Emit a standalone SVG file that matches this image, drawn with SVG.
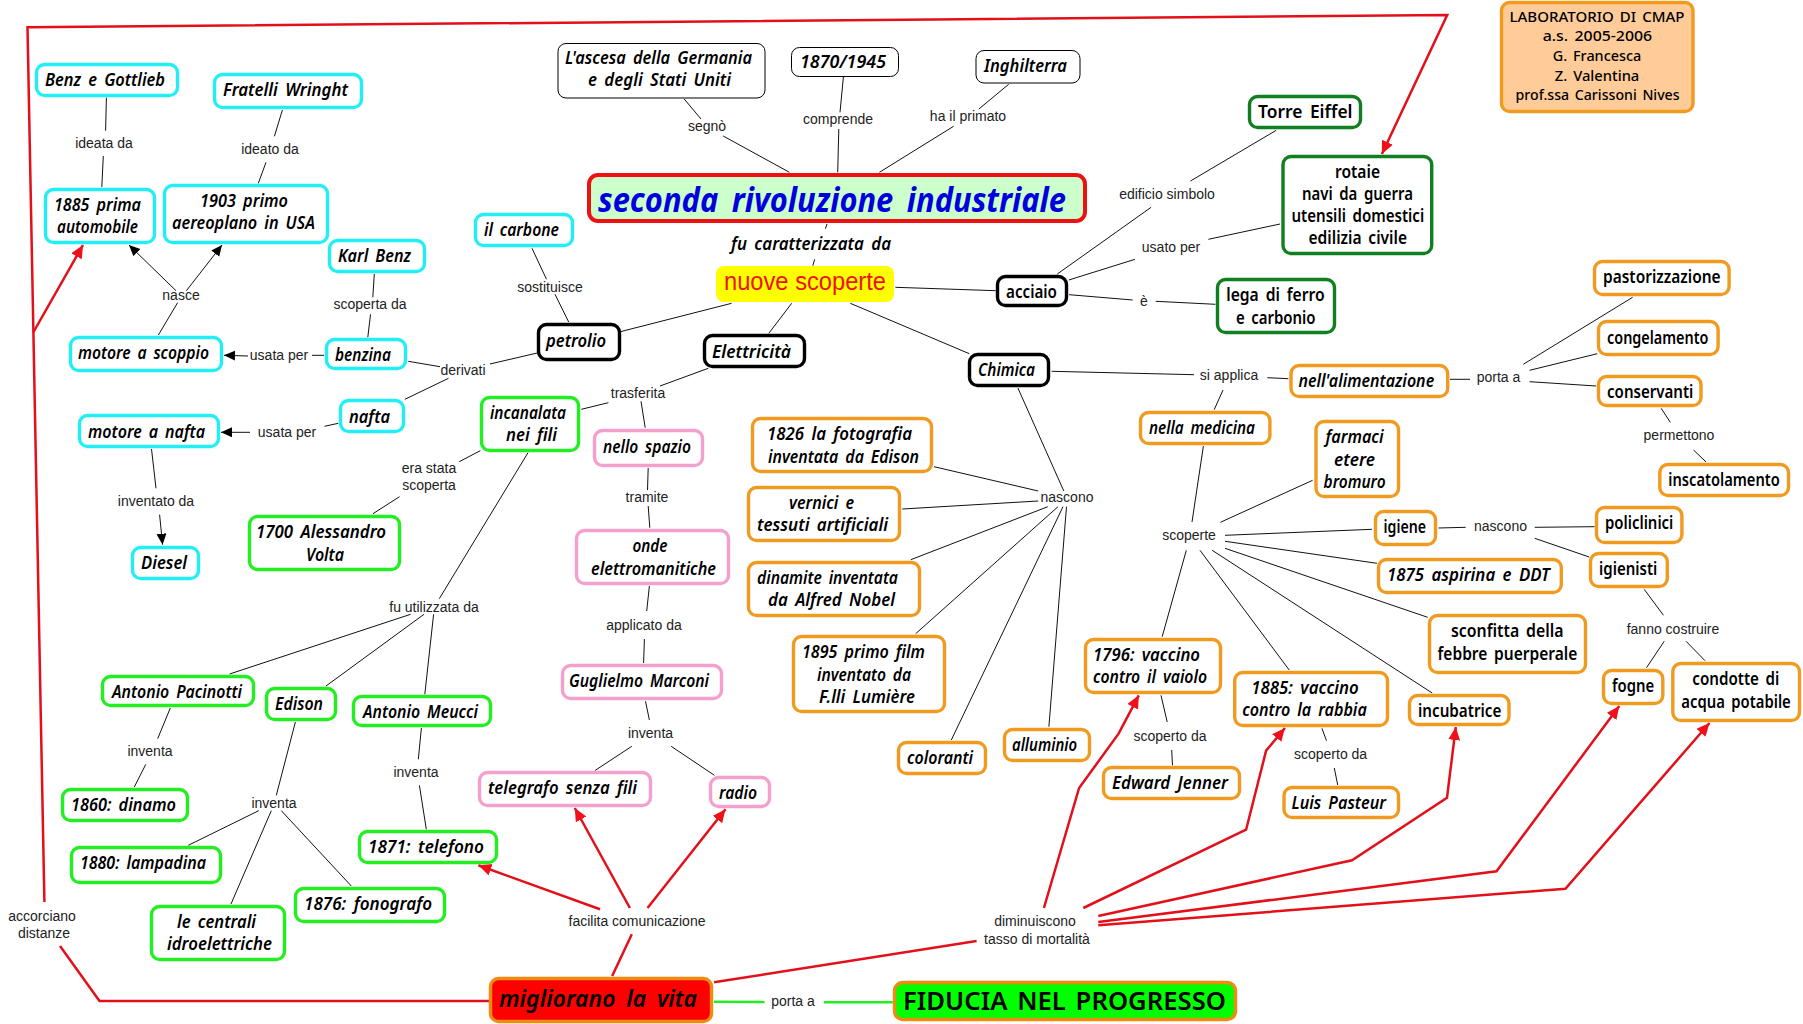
<svg xmlns="http://www.w3.org/2000/svg" width="1803" height="1024" viewBox="0 0 1803 1024">
<style>
.n{fill:#fff;stroke-width:3.4}
.cy{stroke:#22eef6}.gr{stroke:#22ee22}.pk{stroke:#f4a0cc}.or{stroke:#f09a20}.dg{stroke:#0f7f1f}.bk{stroke:#000}
.th{fill:#fff;stroke:#000;stroke-width:1}
text{font-family:"Noto Sans","DejaVu Sans",sans-serif;font-size:17px;fill:#000}
.i{font-style:italic;font-weight:600;word-spacing:3px}
.u{font-weight:600;word-spacing:3px}
.l{font-family:"Liberation Sans",Arial,sans-serif;font-size:14px;fill:#222;text-anchor:middle;word-spacing:0}
.s{font-size:14px;font-weight:500;word-spacing:2px}
.c line,.c polyline{fill:none}
.k line{stroke:#111;stroke-width:1}
.r line,.r polyline{stroke:#e3101a;stroke-width:2.5;fill:none;stroke-linejoin:miter}
.g line{stroke:#22ee22;stroke-width:2.4}
.ka{marker-end:url(#ah)}
.ra{marker-end:url(#rh)}
</style>
<defs>
<marker id="ah" markerUnits="userSpaceOnUse" markerWidth="14" markerHeight="12" refX="11" refY="5" orient="auto"><path d="M0 0L11 5L0 10Z" fill="#000"/></marker>
<marker id="rh" markerUnits="userSpaceOnUse" markerWidth="16" markerHeight="14" refX="13" refY="6" orient="auto"><path d="M0 0L13 6L0 12Z" fill="#f0101a"/></marker>
</defs>
<rect width="1803" height="1024" fill="#fff"/>
<g id="connectors" class="c">
<g class="k">
<line x1="106.4" y1="97.7" x2="105.6" y2="130.7"/><line x1="103.3" y1="156" x2="101.8" y2="187"/>
<line x1="282.4" y1="110" x2="274.4" y2="136.3"/><line x1="266" y1="162.3" x2="258.3" y2="183.3"/>
<line class="ka" x1="176" y1="290.7" x2="129" y2="245"/><line class="ka" x1="186.4" y1="290.7" x2="222" y2="245"/>
<line x1="158.4" y1="335" x2="177.6" y2="302.7"/>
<line x1="374.3" y1="274" x2="372.8" y2="297.3"/><line x1="370.5" y1="314.3" x2="367.8" y2="337.3"/>
<line x1="532" y1="248.3" x2="546.5" y2="279.3"/><line x1="555" y1="294.3" x2="568.7" y2="322"/>
<line x1="324" y1="355.3" x2="312" y2="355.3"/><line class="ka" x1="248" y1="356" x2="224" y2="355.3"/>
<line x1="408.3" y1="361.3" x2="440" y2="366.7"/><line x1="489.9" y1="364" x2="537.3" y2="353"/>
<line x1="448.5" y1="378.3" x2="404.9" y2="399.3"/>
<line x1="338.3" y1="423.3" x2="324.5" y2="426.3"/><line class="ka" x1="250" y1="432.3" x2="221" y2="432.3"/>
<line x1="151.5" y1="449" x2="156" y2="488.3"/><line class="ka" x1="159.6" y1="514.7" x2="162.6" y2="544.7"/>
<line x1="480.3" y1="450.7" x2="459.2" y2="461.7"/><line x1="399.5" y1="496.7" x2="373" y2="513.7"/>
<line x1="528" y1="452.7" x2="439.3" y2="598.7"/>
<line x1="410.6" y1="614.3" x2="229.6" y2="674"/><line x1="424" y1="614.3" x2="326" y2="686"/><line x1="433.6" y1="614.3" x2="424.8" y2="694.3"/>
<line x1="170.3" y1="708" x2="157.7" y2="738.7"/><line x1="145.8" y1="764.3" x2="134.3" y2="787"/>
<line x1="295.4" y1="722" x2="276.3" y2="795.3"/>
<line x1="258.7" y1="810.7" x2="188.3" y2="845.3"/><line x1="271.3" y1="810.7" x2="231" y2="904"/><line x1="281.3" y1="810.7" x2="351.3" y2="886"/>
<line x1="421.4" y1="728" x2="418.3" y2="759.3"/><line x1="419.4" y1="785.3" x2="426.3" y2="829.3"/>
<line x1="684.2" y1="99" x2="701" y2="119"/><line x1="723.2" y1="136" x2="789.4" y2="172.3"/>
<line x1="843.4" y1="77" x2="840" y2="112.3"/><line x1="838.8" y1="129" x2="837.7" y2="172.3"/>
<line x1="1008.7" y1="84.3" x2="978.9" y2="109"/><line x1="953.6" y1="126.3" x2="879.4" y2="172.3"/>
<line x1="827" y1="224" x2="825.4" y2="228.7"/><line x1="814.7" y1="259.3" x2="812.8" y2="265.7"/>
<line x1="895.4" y1="287.3" x2="995.7" y2="290.7"/><line x1="731.6" y1="303.3" x2="619.1" y2="332"/>
<line x1="791.7" y1="303.3" x2="768.8" y2="333.3"/><line x1="850.3" y1="303.3" x2="969.3" y2="353.7"/>
<line x1="708.3" y1="368.3" x2="660" y2="386"/><line x1="608.4" y1="402.7" x2="581.3" y2="409.3"/>
<line x1="641" y1="401.3" x2="645.2" y2="427.7"/><line x1="648.2" y1="468" x2="647.5" y2="490"/>
<line x1="648.2" y1="506" x2="649.8" y2="527.7"/><line x1="649.4" y1="586" x2="646.7" y2="611"/>
<line x1="644.4" y1="639" x2="643.6" y2="663"/><line x1="645.5" y1="701.3" x2="649.4" y2="720"/>
<line x1="631.8" y1="746.3" x2="595" y2="770.5"/><line x1="671.2" y1="746.3" x2="714.4" y2="775.3"/>
<line x1="1017.9" y1="388" x2="1063.8" y2="491"/><line x1="934" y1="466.7" x2="1038.2" y2="491"/>
<line x1="902.3" y1="509" x2="1038.2" y2="501"/><line x1="1047.8" y1="506.7" x2="910.8" y2="559.7"/>
<line x1="1058" y1="506.7" x2="915.7" y2="633.7"/><line x1="1063" y1="506.7" x2="951.3" y2="740"/>
<line x1="1066.5" y1="506.7" x2="1048.9" y2="726.7"/>
<line x1="1057.3" y1="274" x2="1151.1" y2="207.3"/><line x1="1190.5" y1="181" x2="1276.2" y2="130.3"/>
<line x1="1068.8" y1="280" x2="1135" y2="259.3"/><line x1="1208.4" y1="239.3" x2="1280" y2="224"/>
<line x1="1069.1" y1="294.7" x2="1132.7" y2="300"/><line x1="1155.7" y1="301.3" x2="1215.4" y2="304.3"/>
<line x1="1051.6" y1="371.3" x2="1194" y2="374.7"/><line x1="1267.3" y1="377.7" x2="1288.4" y2="378.7"/>
<line x1="1223" y1="390" x2="1214.2" y2="409.7"/>
<line x1="1450" y1="379.3" x2="1470" y2="379.3"/><line x1="1523.3" y1="364.3" x2="1632.6" y2="297.3"/>
<line x1="1529.6" y1="370.3" x2="1597.3" y2="353.7"/><line x1="1529.6" y1="381.7" x2="1596.2" y2="386"/>
<line x1="1661.2" y1="408.3" x2="1670.3" y2="422.3"/><line x1="1693.5" y1="450" x2="1706.1" y2="462"/>
<line x1="1203.4" y1="446" x2="1192" y2="522"/>
<line x1="1220.4" y1="522.3" x2="1312.6" y2="480.3"/><line x1="1225" y1="535.3" x2="1371.9" y2="529.3"/>
<line x1="1225" y1="541.3" x2="1376.9" y2="563.3"/><line x1="1225" y1="548.3" x2="1427.7" y2="617.3"/>
<line x1="1212.2" y1="550.3" x2="1432.2" y2="693"/><line x1="1200" y1="550.3" x2="1289.2" y2="670"/>
<line x1="1186.3" y1="550.3" x2="1162.2" y2="636.7"/>
<line x1="1161" y1="695.3" x2="1167.2" y2="722"/><line x1="1171.7" y1="750" x2="1172.5" y2="765.3"/>
<line x1="1321.9" y1="728.3" x2="1326.5" y2="740.7"/><line x1="1334.3" y1="768" x2="1337.7" y2="785"/>
<line x1="1438.5" y1="528" x2="1465.7" y2="527.3"/><line x1="1534.7" y1="527.3" x2="1594.6" y2="526.7"/>
<line x1="1534.7" y1="538.3" x2="1589.2" y2="557"/>
<line x1="1644.2" y1="589.3" x2="1663.5" y2="615.3"/><line x1="1664.2" y1="641.3" x2="1646.5" y2="667.7"/>
<line x1="1686.1" y1="641.3" x2="1705" y2="660.7"/>
</g>
<g class="r">
<polyline class="ra" points="44.4,902 27.5,27.3 1447.2,15 1381.9,154"/>
<polyline class="ra" points="33.5,332 83,245"/>
<polyline points="60,946 99.5,1001 489,1001"/>
<line class="ra" x1="600" y1="909.3" x2="478.4" y2="865.3"/>
<line class="ra" x1="629.9" y1="908" x2="574.8" y2="808"/>
<line class="ra" x1="647.5" y1="908" x2="725.5" y2="809.3"/>
<line x1="612.2" y1="976" x2="631.8" y2="934.3"/>
<line x1="714" y1="982.3" x2="976.6" y2="941"/>
<polyline class="ra" points="1043.9,908 1079.1,788 1118.6,733.7 1138.8,695.3"/>
<polyline class="ra" points="1083.3,908 1246.1,829.7 1266.1,750.7 1285,728"/>
<polyline class="ra" points="1098.3,916 1352,860.3 1447,797.7 1455.8,727"/>
<polyline class="ra" points="1098.3,922 1496.5,871.3 1619.3,706"/>
<polyline class="ra" points="1098.3,925.3 1565.4,888.7 1709.5,723"/>
</g>
<g class="g">
<line x1="714" y1="1001.7" x2="764.6" y2="1002"/><line x1="823.9" y1="1002.3" x2="892.8" y2="1002.3"/>
</g>
</g>
<g id="labels">
<text class="l" x="104" y="148">ideata da</text>
<text class="l" x="270" y="154">ideato da</text>
<text class="l" x="181" y="300">nasce</text>
<text class="l" x="370" y="309">scoperta da</text>
<text class="l" x="550" y="292">sostituisce</text>
<text class="l" x="279" y="360">usata per</text>
<text class="l" x="463" y="375">derivati</text>
<text class="l" x="287" y="437">usata per</text>
<text class="l" x="429" y="473">era stata</text>
<text class="l" x="429" y="490">scoperta</text>
<text class="l" x="156" y="506">inventato da</text>
<text class="l" x="707" y="131">segnò</text>
<text class="l" x="838" y="124">comprende</text>
<text class="l" x="968" y="121">ha il primato</text>
<text class="l" x="1167" y="199">edificio simbolo</text>
<text class="l" x="1171" y="252">usato per</text>
<text class="l" x="1144" y="306">è</text>
<text class="l" x="638" y="398">trasferita</text>
<text class="l" x="647" y="502">tramite</text>
<text class="l" x="1067" y="502">nascono</text>
<text class="l" x="644" y="630">applicato da</text>
<text class="l" x="650.5" y="738">inventa</text>
<text class="l" x="1229" y="380">si applica</text>
<text class="l" x="1498.5" y="382">porta a</text>
<text class="l" x="1679" y="440">permettono</text>
<text class="l" x="1189" y="540">scoperte</text>
<text class="l" x="1500.5" y="531">nascono</text>
<text class="l" x="1673" y="634">fanno costruire</text>
<text class="l" x="1330.6" y="759">scoperto da</text>
<text class="l" x="1170" y="741">scoperto da</text>
<text class="l" x="434" y="612">fu utilizzata da</text>
<text class="l" x="150" y="756">inventa</text>
<text class="l" x="274" y="808">inventa</text>
<text class="l" x="416" y="777">inventa</text>
<text class="l" x="42" y="921">accorciano</text>
<text class="l" x="44" y="938">distanze</text>
<text class="l" x="637" y="926">facilita comunicazione</text>
<text class="l" x="1035" y="926">diminuiscono</text>
<text class="l" x="1037" y="944">tasso di mortalità</text>
<text class="l" x="793" y="1006">porta a</text>
<text class="i" x="731" y="250" textLength="160" lengthAdjust="spacingAndGlyphs">fu caratterizzata da</text>
</g>
<g id="n-benz-gottlieb"><rect class="n cy" x="36.5" y="64.5" width="141" height="31" rx="8"/><text class="i" x="45" y="86" textLength="120" lengthAdjust="spacingAndGlyphs">Benz e Gottlieb</text></g>
<g id="n-wright"><rect class="n cy" x="214.5" y="74.5" width="147" height="33" rx="8"/><text class="i" x="223" y="96" textLength="125" lengthAdjust="spacingAndGlyphs">Fratelli Wringht</text></g>
<g id="n-1885-auto"><rect class="n cy" x="45.5" y="189.5" width="109" height="53" rx="8"/><text class="i" x="54" y="211" textLength="87" lengthAdjust="spacingAndGlyphs">1885 prima</text><text class="i" x="57" y="233" textLength="81" lengthAdjust="spacingAndGlyphs">automobile</text></g>
<g id="n-1903"><rect class="n cy" x="164.5" y="185.5" width="163" height="57" rx="8"/><text class="i" x="200" y="207" textLength="88" lengthAdjust="spacingAndGlyphs">1903 primo</text><text class="i" x="172" y="229" textLength="143" lengthAdjust="spacingAndGlyphs">aereoplano in USA</text></g>
<g id="n-karl"><rect class="n cy" x="329.5" y="240.5" width="95" height="31" rx="8"/><text class="i" x="338" y="262" textLength="73" lengthAdjust="spacingAndGlyphs">Karl Benz</text></g>
<g id="n-carbone"><rect class="n cy" x="475.5" y="214.5" width="97" height="31" rx="8"/><text class="i" x="484" y="236" textLength="75" lengthAdjust="spacingAndGlyphs">il carbone</text></g>
<g id="n-petrolio"><rect class="n bk" x="538.5" y="324.5" width="81" height="35" rx="8"/><text class="i" x="546" y="347" textLength="60" lengthAdjust="spacingAndGlyphs">petrolio</text></g>
<g id="n-scoppio"><rect class="n cy" x="70.5" y="337.5" width="151" height="33" rx="8"/><text class="i" x="78" y="359" textLength="131" lengthAdjust="spacingAndGlyphs">motore a scoppio</text></g>
<g id="n-benzina"><rect class="n cy" x="326.5" y="339.5" width="79" height="29" rx="8"/><text class="i" x="335" y="361" textLength="56" lengthAdjust="spacingAndGlyphs">benzina</text></g>
<g id="n-nafta"><rect class="n cy" x="340.5" y="400.5" width="63" height="31" rx="8"/><text class="i" x="349" y="423" textLength="41" lengthAdjust="spacingAndGlyphs">nafta</text></g>
<g id="n-incanalata"><rect class="n gr" x="481.5" y="397.5" width="97" height="53" rx="8"/><text class="i" x="490" y="419" textLength="76" lengthAdjust="spacingAndGlyphs">incanalata</text><text class="i" x="506" y="441" textLength="51" lengthAdjust="spacingAndGlyphs">nei fili</text></g>
<g id="n-motore-nafta"><rect class="n cy" x="79.5" y="415.5" width="139" height="31" rx="8"/><text class="i" x="88" y="438" textLength="117" lengthAdjust="spacingAndGlyphs">motore a nafta</text></g>
<g id="n-diesel"><rect class="n cy" x="132.5" y="547.5" width="66" height="31" rx="8"/><text class="i" x="141" y="569" textLength="46" lengthAdjust="spacingAndGlyphs">Diesel</text></g>
<g id="n-ascesa"><rect class="th" x="558" y="43.5" width="207" height="54.5" rx="8"/><text class="i" x="565" y="64" textLength="187" lengthAdjust="spacingAndGlyphs">L'ascesa della Germania</text><text class="i" x="588" y="86" textLength="143" lengthAdjust="spacingAndGlyphs">e degli Stati Uniti</text></g>
<g id="n-1870"><rect class="th" x="791.5" y="47.5" width="107" height="29" rx="8"/><text class="i" x="800" y="68" textLength="86" lengthAdjust="spacingAndGlyphs">1870/1945</text></g>
<g id="n-inghilterra"><rect class="th" x="976" y="50.5" width="104" height="32.5" rx="8"/><text class="i" x="984" y="72" textLength="83" lengthAdjust="spacingAndGlyphs">Inghilterra</text></g>
<g id="n-main"><rect x="589" y="175" width="496" height="46" rx="9" fill="#ccffcc" stroke="#ee1111" stroke-width="4"/><text class="i" x="598" y="212" textLength="468" lengthAdjust="spacingAndGlyphs" style="font-size:34px;font-weight:700;fill:#0000dd;word-spacing:6px">seconda rivoluzione industriale</text></g>
<g id="n-nuove"><rect x="716" y="266" width="178" height="36" rx="8" fill="#ffff00"/><text x="724" y="290" textLength="162" lengthAdjust="spacingAndGlyphs" style="font-family:'Liberation Sans',sans-serif;font-size:25px;fill:#ee1111">nuove scoperte</text></g>
<g id="n-acciaio"><rect class="n bk" x="997.5" y="276.5" width="69" height="29" rx="8"/><text class="u" x="1006" y="298" textLength="51" lengthAdjust="spacingAndGlyphs">acciaio</text></g>
<g id="n-elettricita"><rect class="n bk" x="704.5" y="335.5" width="100" height="31" rx="8"/><text class="i" x="712" y="358" textLength="79" lengthAdjust="spacingAndGlyphs">Elettricità</text></g>
<g id="n-chimica"><rect class="n bk" x="969.5" y="354.5" width="79" height="31" rx="8"/><text class="i" x="978" y="376" textLength="57" lengthAdjust="spacingAndGlyphs">Chimica</text></g>
<g id="n-nello"><rect class="n pk" x="594.5" y="430.5" width="108" height="35" rx="8"/><text class="i" x="603" y="453" textLength="88" lengthAdjust="spacingAndGlyphs">nello spazio</text></g>
<g id="n-1826"><rect class="n or" x="752.5" y="418.5" width="179" height="53" rx="8"/><text class="i" x="767" y="440" textLength="145" lengthAdjust="spacingAndGlyphs">1826 la fotografia</text><text class="i" x="768" y="463" textLength="151" lengthAdjust="spacingAndGlyphs">inventata da Edison</text></g>
<g id="n-vernici"><rect class="n or" x="748.5" y="487.5" width="151" height="53" rx="8"/><text class="i" x="789" y="509" textLength="65" lengthAdjust="spacingAndGlyphs">vernici e</text><text class="i" x="757" y="531" textLength="131" lengthAdjust="spacingAndGlyphs">tessuti artificiali</text></g>
<g id="n-onde"><rect class="n pk" x="576.5" y="530.5" width="152" height="53" rx="8"/><text class="i" x="632.5" y="552" textLength="35" lengthAdjust="spacingAndGlyphs">onde</text><text class="i" x="591" y="575" textLength="125" lengthAdjust="spacingAndGlyphs">elettromanitiche</text></g>
<g id="n-marconi"><rect class="n pk" x="562.5" y="665.5" width="159" height="33" rx="8"/><text class="i" x="569" y="687" textLength="140" lengthAdjust="spacingAndGlyphs">Guglielmo Marconi</text></g>
<g id="n-dinamite"><rect class="n or" x="748.5" y="562.5" width="171" height="53" rx="8"/><text class="i" x="757" y="584" textLength="141" lengthAdjust="spacingAndGlyphs">dinamite inventata</text><text class="i" x="768" y="606" textLength="127" lengthAdjust="spacingAndGlyphs">da Alfred Nobel</text></g>
<g id="n-1895"><rect class="n or" x="793.5" y="636.5" width="151" height="75" rx="8"/><text class="i" x="802" y="658" textLength="123" lengthAdjust="spacingAndGlyphs">1895 primo film</text><text class="i" x="817" y="681" textLength="94" lengthAdjust="spacingAndGlyphs">inventato da</text><text class="i" x="819" y="703" textLength="96" lengthAdjust="spacingAndGlyphs">F.lli Lumière</text></g>
<g id="n-coloranti"><rect class="n or" x="898.5" y="742.5" width="87" height="31" rx="8"/><text class="i" x="907" y="764" textLength="66" lengthAdjust="spacingAndGlyphs">coloranti</text></g>
<g id="n-alluminio"><rect class="n or" x="1004.5" y="729.5" width="85" height="31" rx="8"/><text class="i" x="1012" y="751" textLength="65" lengthAdjust="spacingAndGlyphs">alluminio</text></g>
<g id="n-radio"><rect class="n pk" x="710.5" y="777.5" width="59" height="29" rx="8"/><text class="i" x="719" y="799" textLength="38" lengthAdjust="spacingAndGlyphs">radio</text></g>
<g id="n-telegrafo"><rect class="n pk" x="479.5" y="772.5" width="171" height="33" rx="8"/><text class="i" x="488" y="794" textLength="149" lengthAdjust="spacingAndGlyphs">telegrafo senza fili</text></g>
<g id="n-1796"><rect class="n or" x="1085.5" y="639.5" width="135" height="53" rx="8"/><text class="i" x="1093" y="661" textLength="107" lengthAdjust="spacingAndGlyphs">1796: vaccino</text><text class="i" x="1093" y="683" textLength="114" lengthAdjust="spacingAndGlyphs">contro il vaiolo</text></g>
<g id="n-jenner"><rect class="n or" x="1103.5" y="767.5" width="136" height="31" rx="8"/><text class="i" x="1112" y="789" textLength="116" lengthAdjust="spacingAndGlyphs">Edward Jenner</text></g>
<g id="n-migliorano"><rect x="490.5" y="978.5" width="221" height="43" rx="8" fill="#ff0000" stroke="#f08a10" stroke-width="3.4"/><text class="i" x="499" y="1007" textLength="198" lengthAdjust="spacingAndGlyphs" style="font-size:24px;word-spacing:5px">migliorano la vita</text></g>
<g id="n-fiducia"><rect x="894.5" y="982.5" width="341" height="37" rx="8" fill="#00ff00" stroke="#f08a10" stroke-width="3.4"/><text class="u" x="903" y="1010" textLength="323" lengthAdjust="spacingAndGlyphs" style="font-size:25px">FIDUCIA NEL PROGRESSO</text></g>
<g id="n-lab"><rect x="1501.5" y="2.5" width="191.5" height="109" rx="8" fill="#ffcc99" stroke="#f09a20" stroke-width="3.4"/><text class="s" x="1509.5" y="22" textLength="175" lengthAdjust="spacingAndGlyphs">LABORATORIO DI CMAP</text><text class="s" x="1542.7" y="41" textLength="109.5" lengthAdjust="spacingAndGlyphs">a.s. 2005-2006</text><text class="s" x="1552.8" y="61" textLength="88.5" lengthAdjust="spacingAndGlyphs">G. Francesca</text><text class="s" x="1554.8" y="81" textLength="84.5" lengthAdjust="spacingAndGlyphs">Z. Valentina</text><text class="s" x="1515.6" y="100" textLength="164" lengthAdjust="spacingAndGlyphs">prof.ssa Carissoni Nives</text></g>
<g id="n-eiffel"><rect class="n dg" x="1249.5" y="96.5" width="111" height="31" rx="8"/><text class="u" x="1258" y="118" textLength="94.5" lengthAdjust="spacingAndGlyphs">Torre Eiffel</text></g>
<g id="n-rotaie"><rect class="n dg" x="1283" y="156.5" width="148.7" height="97" rx="8"/><text class="u" x="1335" y="178" textLength="45" lengthAdjust="spacingAndGlyphs">rotaie</text><text class="u" x="1302" y="200" textLength="111" lengthAdjust="spacingAndGlyphs">navi da guerra</text><text class="u" x="1291.5" y="222" textLength="132.7" lengthAdjust="spacingAndGlyphs">utensili domestici</text><text class="u" x="1308.5" y="244" textLength="98.5" lengthAdjust="spacingAndGlyphs">edilizia civile</text></g>
<g id="n-lega"><rect class="n dg" x="1217.5" y="279.5" width="117" height="53" rx="8"/><text class="u" x="1226.2" y="301" textLength="98.5" lengthAdjust="spacingAndGlyphs">lega di ferro</text><text class="u" x="1236" y="324" textLength="79.5" lengthAdjust="spacingAndGlyphs">e carbonio</text></g>
<g id="n-past"><rect class="n or" x="1594.5" y="261.5" width="134.6" height="33" rx="8"/><text class="u" x="1603" y="283" textLength="117.6" lengthAdjust="spacingAndGlyphs">pastorizzazione</text></g>
<g id="n-cong"><rect class="n or" x="1598.5" y="321.5" width="119.6" height="33" rx="8"/><text class="u" x="1607" y="344" textLength="101.5" lengthAdjust="spacingAndGlyphs">congelamento</text></g>
<g id="n-cons"><rect class="n or" x="1598.5" y="376.5" width="102.5" height="29" rx="8"/><text class="u" x="1607" y="398" textLength="86.4" lengthAdjust="spacingAndGlyphs">conservanti</text></g>
<g id="n-inscat"><rect class="n or" x="1659.8" y="464.5" width="128.7" height="31" rx="8"/><text class="u" x="1668.3" y="486" textLength="111.5" lengthAdjust="spacingAndGlyphs">inscatolamento</text></g>
<g id="n-alimentazione"><rect class="n or" x="1291" y="365.5" width="156.7" height="31" rx="8"/><text class="i" x="1298.5" y="387" textLength="135.7" lengthAdjust="spacingAndGlyphs">nell'alimentazione</text></g>
<g id="n-medicina"><rect class="n or" x="1140.5" y="412.5" width="129.4" height="31" rx="8"/><text class="i" x="1149" y="434" textLength="106" lengthAdjust="spacingAndGlyphs">nella medicina</text></g>
<g id="n-farmaci"><rect class="n or" x="1316" y="421.5" width="82.5" height="75" rx="8"/><text class="i" x="1325.6" y="443" textLength="58" lengthAdjust="spacingAndGlyphs">farmaci</text><text class="i" x="1334" y="466" textLength="41" lengthAdjust="spacingAndGlyphs">etere</text><text class="i" x="1323.6" y="488" textLength="62" lengthAdjust="spacingAndGlyphs">bromuro</text></g>
<g id="n-igiene"><rect class="n or" x="1375.5" y="511.5" width="60" height="33" rx="8"/><text class="u" x="1383.5" y="533" textLength="42.5" lengthAdjust="spacingAndGlyphs">igiene</text></g>
<g id="n-policlinici"><rect class="n or" x="1596.5" y="507.5" width="85.4" height="35" rx="8"/><text class="u" x="1605" y="529" textLength="68.3" lengthAdjust="spacingAndGlyphs">policlinici</text></g>
<g id="n-igienisti"><rect class="n or" x="1590.5" y="553.5" width="76.8" height="33" rx="8"/><text class="u" x="1599" y="575" textLength="58.3" lengthAdjust="spacingAndGlyphs">igienisti</text></g>
<g id="n-1875"><rect class="n or" x="1378.5" y="559.5" width="182.8" height="33" rx="8"/><text class="i" x="1387" y="581" textLength="162.8" lengthAdjust="spacingAndGlyphs">1875 aspirina e DDT</text></g>
<g id="n-sconfitta"><rect class="n or" x="1429.5" y="615.5" width="156" height="57" rx="8"/><text class="u" x="1451" y="637" textLength="112.5" lengthAdjust="spacingAndGlyphs">sconfitta della</text><text class="u" x="1437.6" y="660" textLength="139.7" lengthAdjust="spacingAndGlyphs">febbre puerperale</text></g>
<g id="n-1885-vacc"><rect class="n or" x="1234.7" y="672.5" width="152.8" height="53" rx="8"/><text class="i" x="1251.3" y="694" textLength="107.5" lengthAdjust="spacingAndGlyphs">1885: vaccino</text><text class="i" x="1242.2" y="716" textLength="124.6" lengthAdjust="spacingAndGlyphs">contro la rabbia</text></g>
<g id="n-incubatrice"><rect class="n or" x="1409.5" y="695.5" width="99.5" height="29" rx="8"/><text class="u" x="1418" y="717" textLength="83.4" lengthAdjust="spacingAndGlyphs">incubatrice</text></g>
<g id="n-fogne"><rect class="n or" x="1603.5" y="670.5" width="59.3" height="33" rx="8"/><text class="u" x="1612" y="692" textLength="42.2" lengthAdjust="spacingAndGlyphs">fogne</text></g>
<g id="n-condotte"><rect class="n or" x="1672.8" y="663.5" width="126.7" height="57" rx="8"/><text class="u" x="1692.3" y="685" textLength="87" lengthAdjust="spacingAndGlyphs">condotte di</text><text class="u" x="1681.3" y="708" textLength="109.5" lengthAdjust="spacingAndGlyphs">acqua potabile</text></g>
<g id="n-pasteur"><rect class="n or" x="1284" y="787.5" width="114.5" height="30" rx="8"/><text class="i" x="1291.5" y="809" textLength="94.5" lengthAdjust="spacingAndGlyphs">Luis Pasteur</text></g>
<g id="n-1700"><rect class="n gr" x="249.5" y="516.5" width="150" height="53" rx="8"/><text class="i" x="256" y="538" textLength="130" lengthAdjust="spacingAndGlyphs">1700 Alessandro</text><text class="i" x="306" y="561" textLength="38" lengthAdjust="spacingAndGlyphs">Volta</text></g>
<g id="n-pacinotti"><rect class="n gr" x="102.5" y="676.5" width="151" height="29" rx="8"/><text class="i" x="112" y="698" textLength="130" lengthAdjust="spacingAndGlyphs">Antonio Pacinotti</text></g>
<g id="n-edison"><rect class="n gr" x="266.5" y="688.5" width="69" height="31" rx="8"/><text class="i" x="275" y="710" textLength="48" lengthAdjust="spacingAndGlyphs">Edison</text></g>
<g id="n-meucci"><rect class="n gr" x="353.5" y="696.5" width="137" height="29" rx="8"/><text class="i" x="363" y="718" textLength="115" lengthAdjust="spacingAndGlyphs">Antonio Meucci</text></g>
<g id="n-1860"><rect class="n gr" x="62.5" y="789.5" width="125" height="31" rx="8"/><text class="i" x="71" y="811" textLength="105" lengthAdjust="spacingAndGlyphs">1860: dinamo</text></g>
<g id="n-1880"><rect class="n gr" x="71.5" y="847.5" width="149" height="35" rx="8"/><text class="i" x="80" y="869" textLength="126" lengthAdjust="spacingAndGlyphs">1880: lampadina</text></g>
<g id="n-centrali"><rect class="n gr" x="151.5" y="906.5" width="133" height="53" rx="8"/><text class="i" x="177" y="928" textLength="79" lengthAdjust="spacingAndGlyphs">le centrali</text><text class="i" x="167" y="950" textLength="105" lengthAdjust="spacingAndGlyphs">idroelettriche</text></g>
<g id="n-1876"><rect class="n gr" x="295.5" y="888.5" width="149" height="33" rx="8"/><text class="i" x="304" y="910" textLength="128" lengthAdjust="spacingAndGlyphs">1876: fonografo</text></g>
<g id="n-1871"><rect class="n gr" x="359.5" y="831.5" width="137" height="31" rx="8"/><text class="i" x="368" y="853" textLength="116" lengthAdjust="spacingAndGlyphs">1871: telefono</text></g>
</svg>
